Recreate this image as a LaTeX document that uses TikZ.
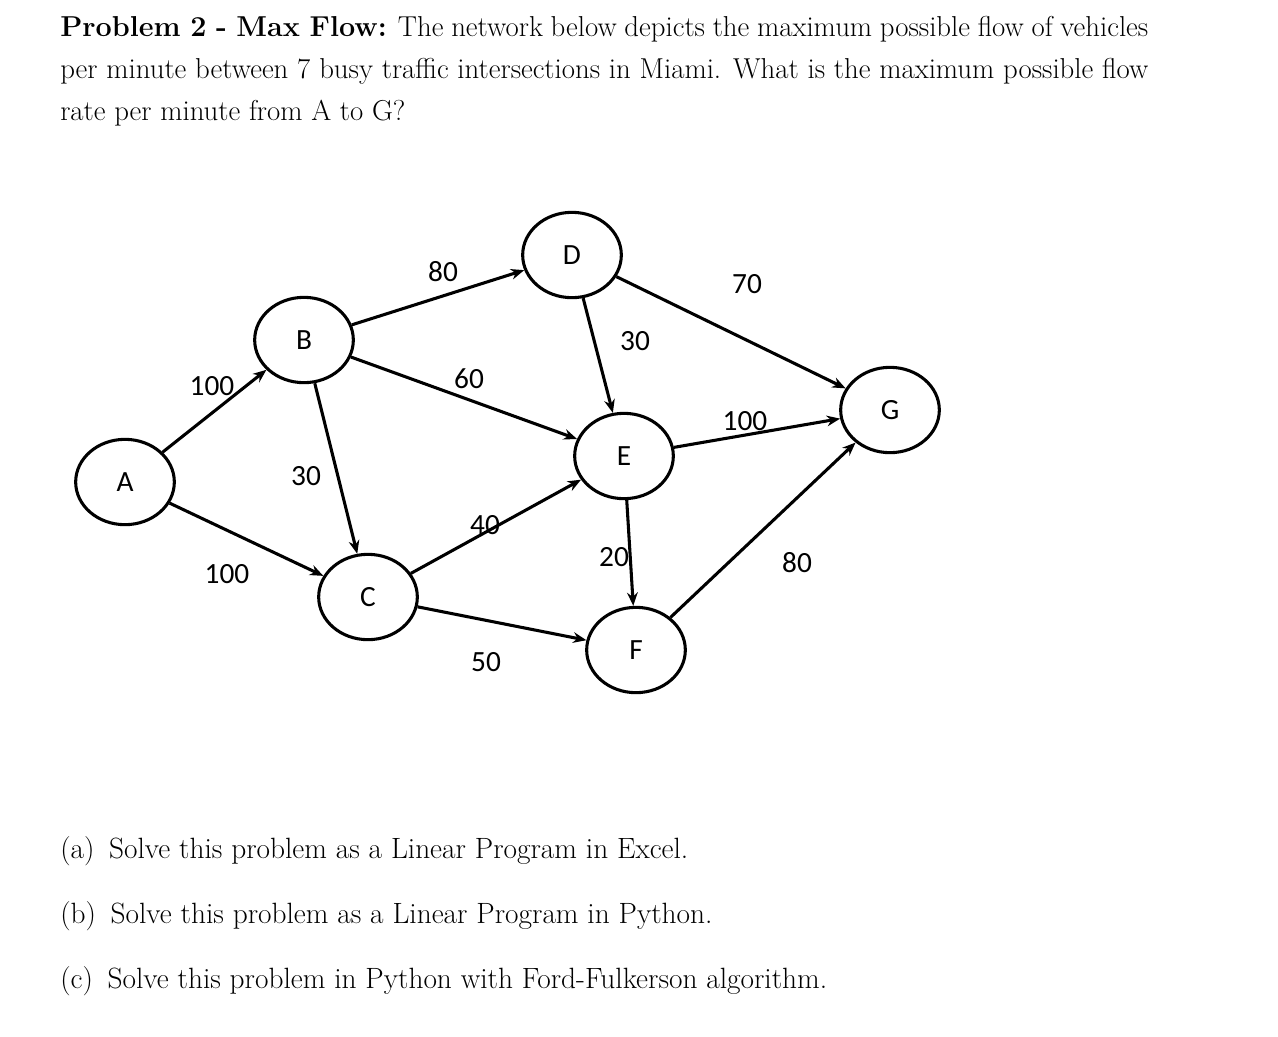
\documentclass[tikz,border=0pt]{standalone}
\usepackage{fontspec}
\newfontfamily\carlitofont{Carlito}
\usetikzlibrary{shapes.geometric,arrows.meta}
\begin{document}
\begin{tikzpicture}[x=0.75pt,y=-0.75pt,
  vert/.style={draw,ellipse,line width=2.3pt,minimum width=74pt,minimum height=64pt,inner sep=0pt,font=\carlitofont\fontsize{22}{24}\selectfont},
  edge/.style={line width=2.3pt,-{Stealth[length=10pt,width=8pt]}},
  lab/.style={font=\carlitofont\fontsize{22}{24}\selectfont},
  txt/.style={anchor=west,inner sep=0pt,font=\fontsize{22}{26}\selectfont}]
\useasboundingbox (0,0) rectangle (1278,1036);
\node[anchor=north west,inner sep=0pt,text width=816pt,align=justify,font=\fontsize{21.6}{31.5}\selectfont] (t) at (60,16)
{\textbf{Problem 2 - Max Flow:} The network below depicts the maximum possible flow of vehicles per minute between 7 busy traffic intersections in Miami. What is the maximum possible flow rate per minute from A to G?};
\node[vert] (A) at (125,482) {A};
\node[vert] (B) at (304,340) {B};
\node[vert] (C) at (368,597) {C};
\node[vert] (D) at (572,255) {D};
\node[vert] (E) at (624,456) {E};
\node[vert] (F) at (636,650) {F};
\node[vert] (G) at (890,410) {G};
\draw[edge] (A) -- (B);
\draw[edge] (A) -- (C);
\draw[edge] (B) -- (D);
\draw[edge] (B) -- (E);
\draw[edge] (B) -- (C);
\draw[edge] (D) -- (E);
\draw[edge] (D) -- (G);
\draw[edge] (E) -- (G);
\draw[edge] (C) -- (E);
\draw[edge] (E) -- (F);
\draw[edge] (C) -- (F);
\draw[edge] (F) -- (G);
\node[lab] (l1) at (212,386) {100};
\node[lab] (l2) at (227,574) {100};
\node[lab] (l3) at (443,272) {80};
\node[lab] (l4) at (469,379) {60};
\node[lab] (l5) at (306,476) {30};
\node[lab] (l6) at (635,341) {30};
\node[lab] (l7) at (747,284) {70};
\node[lab] (l8) at (745,421) {100};
\node[lab] (l9) at (485,525) {40};
\node[lab] (l10) at (614,557) {20};
\node[lab] (l11) at (486,662) {50};
\node[lab] (l12) at (797,563) {80};
\node[txt] (qa) at (60,851) {(a)\enspace Solve this problem as a Linear Program in Excel.};
\node[txt] (qb) at (60,916) {(b)\enspace Solve this problem as a Linear Program in Python.};
\node[txt] (qc) at (60,981) {(c)\enspace Solve this problem in Python with Ford-Fulkerson algorithm.};
\end{tikzpicture}
\end{document}
